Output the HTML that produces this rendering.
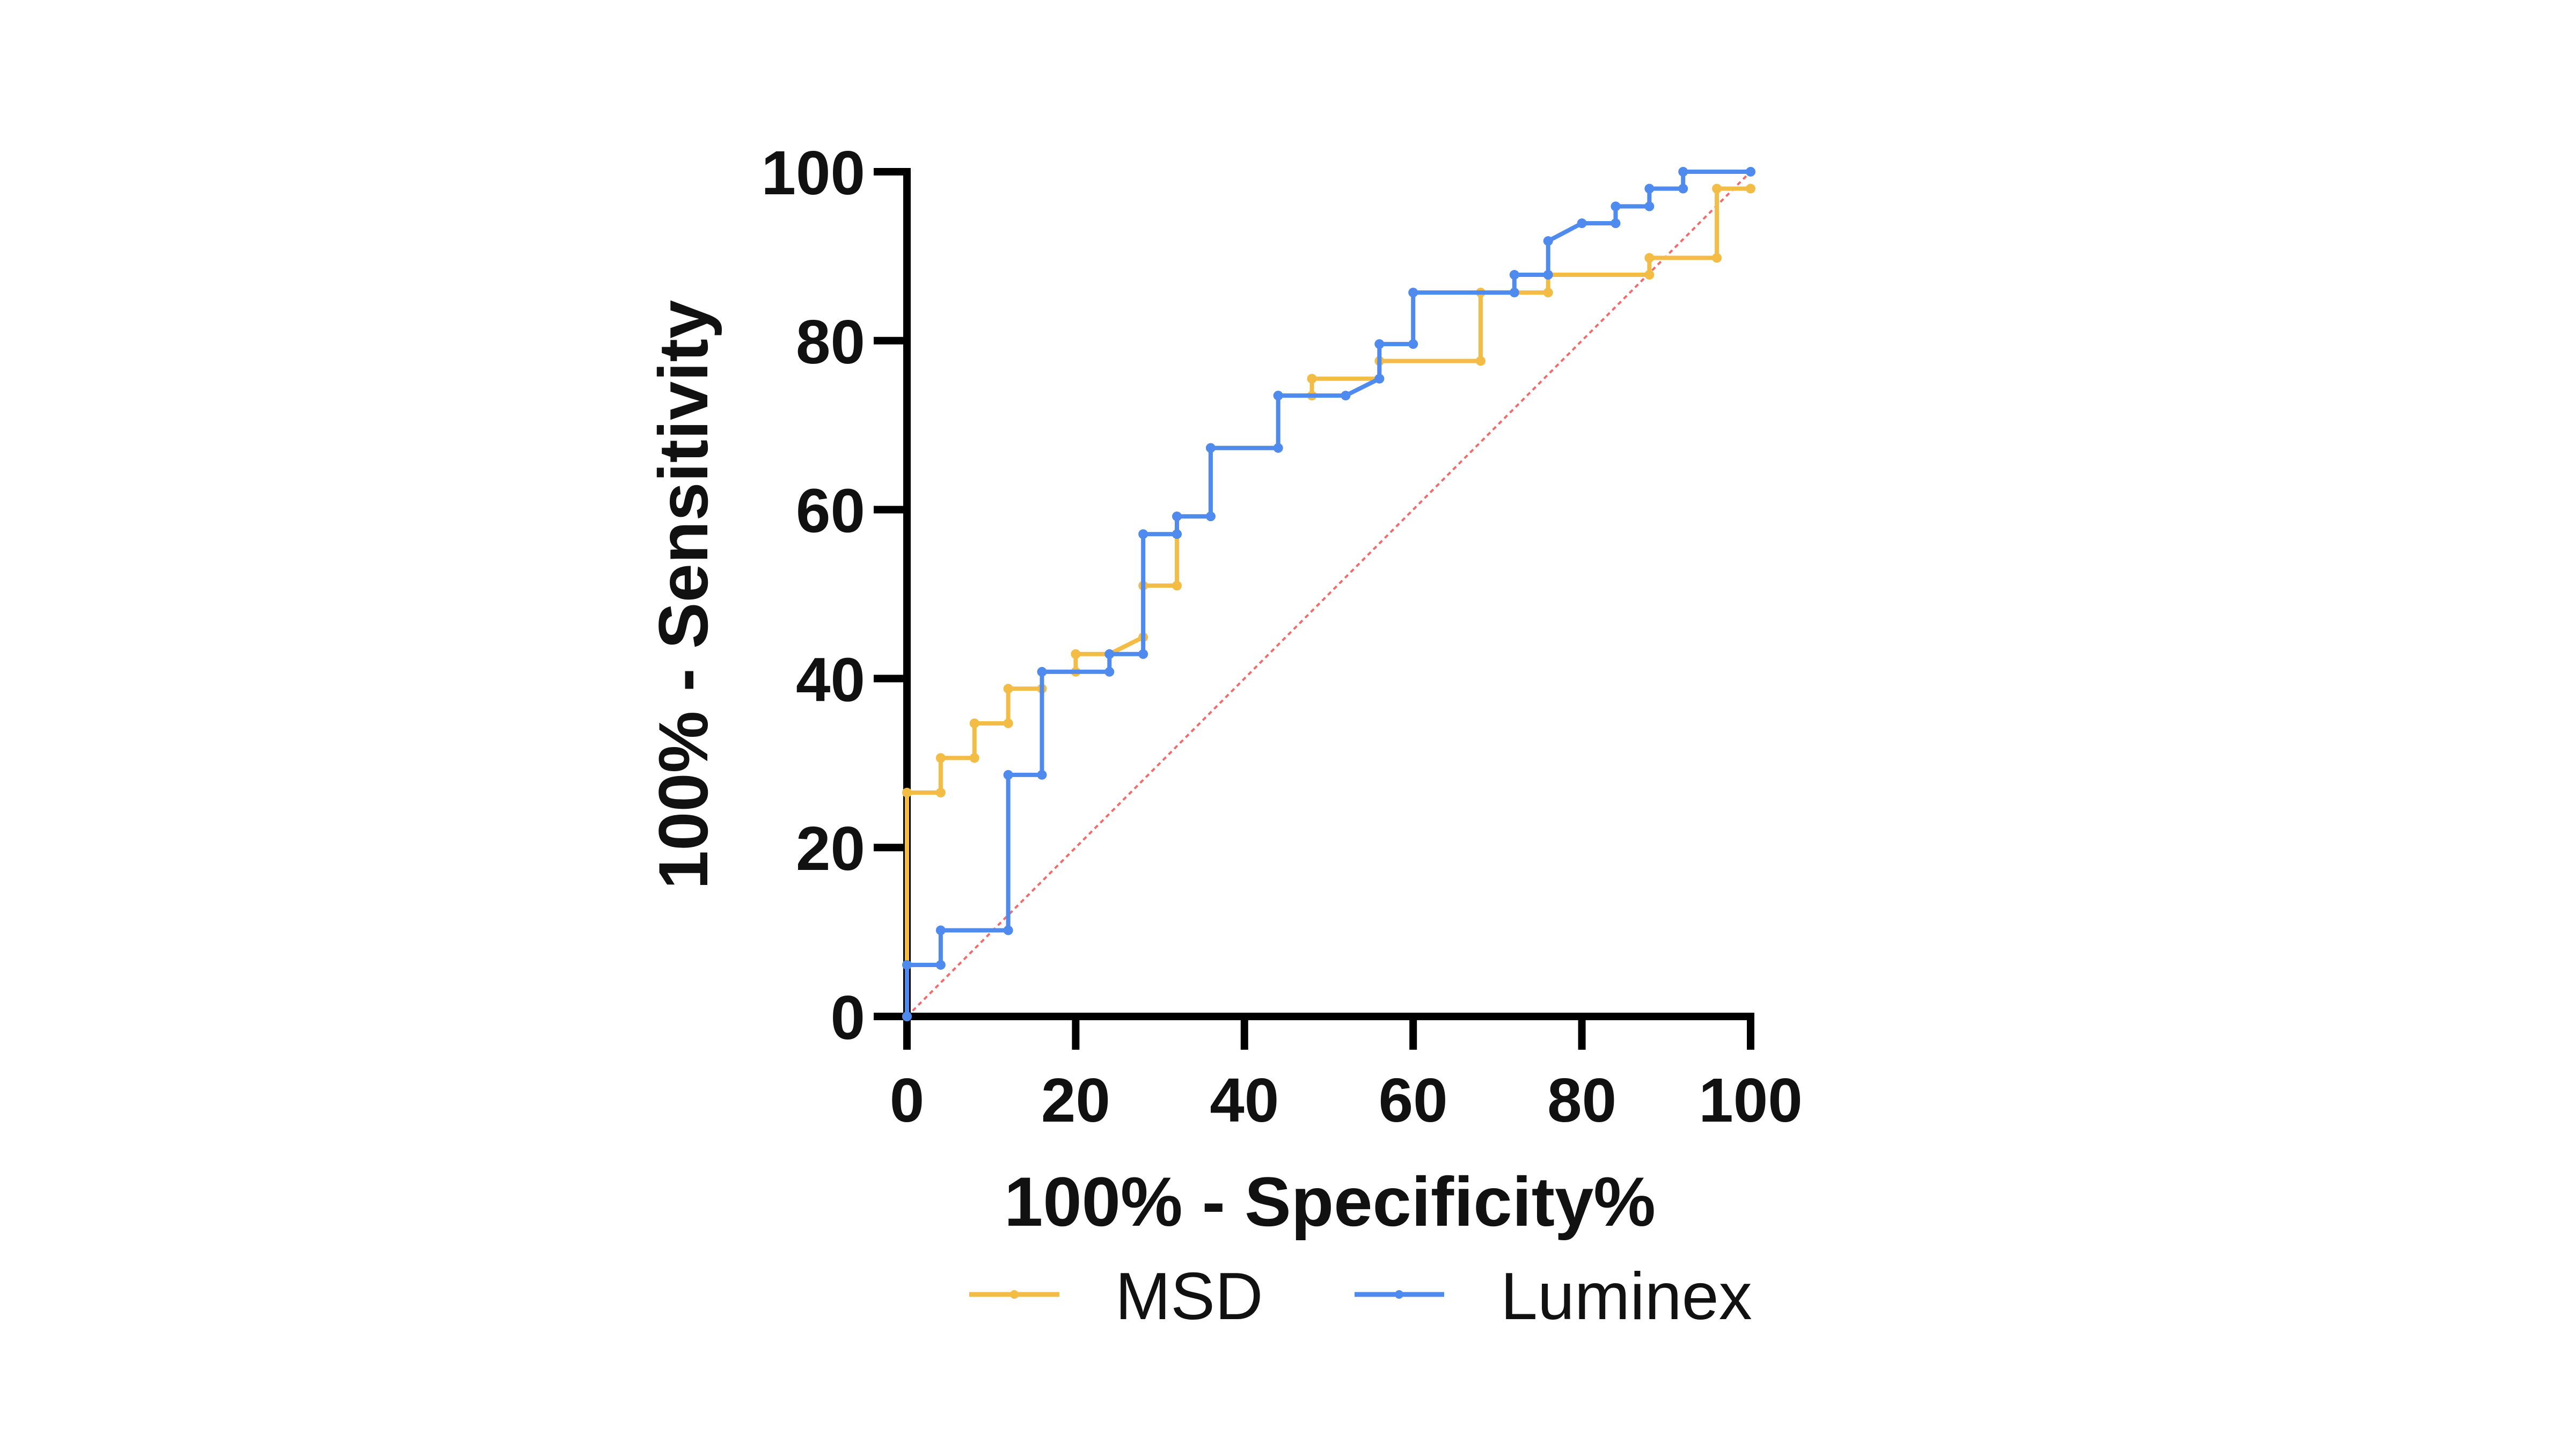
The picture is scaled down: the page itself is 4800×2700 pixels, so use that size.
<!DOCTYPE html>
<html><head><meta charset="utf-8"><style>
html,body{margin:0;padding:0;background:#fff;}
svg{display:block;font-family:"Liberation Sans",Arial,sans-serif;}
</style></head><body>
<svg id="chart" width="4800" height="2700" viewBox="0 0 4800 2700" xmlns="http://www.w3.org/2000/svg">
<rect width="4800" height="2700" fill="#fff"/>
<g id="plot"></g>
<text x="1272" y="1108" transform="rotate(-90 1272 1108)" dy="46" text-anchor="middle" font-weight="bold" font-size="130" fill="#111">100% - Sensitivity</text>
<text x="2478" y="2284" text-anchor="middle" font-weight="bold" font-size="130" fill="#111">100% - Specificity%</text>
<g>
<g>
<line x1="1806" y1="2412" x2="1974" y2="2412" stroke="#F2BC45" stroke-width="9"/>
<circle cx="1890" cy="2412" r="8" fill="#F2BC45"/>
<text x="2078" y="2458" font-size="124" fill="#111">MSD</text>
</g>
<g>
<line x1="2524" y1="2412" x2="2691" y2="2412" stroke="#4F8AEE" stroke-width="9"/>
<circle cx="2607" cy="2412" r="8" fill="#4F8AEE"/>
<text x="2796" y="2458" font-size="124" fill="#111">Luminex</text>
</g>
</g>
</svg>
<script>
const xTicks = [0, 20, 40, 60, 80, 100];
const yTicks = [0, 20, 40, 60, 80, 100];
const msdX = [0,0,4,4,8,8,12,12,16,16,20,20,24,28,28,32,32,32,36,36,44,44,48,48,56,56,68,68,76,76,88,88,96,96,100];
const msdY = [0,26.5,26.5,30.6,30.6,34.7,34.7,38.8,38.8,40.8,40.8,42.9,42.9,44.9,51,51,57.1,59.2,59.2,67.3,67.3,73.5,73.5,75.5,75.5,77.6,77.6,85.7,85.7,87.8,87.8,89.8,89.8,98,98];
const lumX = [0,0,4,4,12,12,16,16,24,24,28,28,32,32,36,36,44,44,52,56,56,60,60,72,72,76,76,80,84,84,88,88,92,92,100];
const lumY = [0,6.1,6.1,10.2,10.2,28.6,28.6,40.8,40.8,42.9,42.9,57.1,57.1,59.2,59.2,67.3,67.3,73.5,73.5,75.5,79.6,79.6,85.7,85.7,87.8,87.8,91.8,93.9,93.9,95.9,95.9,98,98,100,100];

const NS = 'http://www.w3.org/2000/svg';
const X0 = 1690, X1 = 3262, Y0 = 1894, Y1 = 320;
const sx = v => X0 + (v / 100) * (X1 - X0);
const sy = v => Y0 - (v / 100) * (Y0 - Y1);
const plot = document.getElementById('plot');
function mk(tag, attrs) {
  const el = document.createElementNS(NS, tag);
  for (const k in attrs) el.setAttribute(k, attrs[k]);
  plot.appendChild(el);
  return el;
}
// axes
const yAxis = mk('line', {x1: X0, y1: Y1 - 7, x2: X0, y2: Y0 + 7, stroke: '#000', 'stroke-width': 14});


const xAxis = mk('line', {x1: X0 - 7, y1: Y0, x2: X1 + 7, y2: Y0, stroke: '#000', 'stroke-width': 14});


yTicks.forEach(v => {
  const t = mk('line', {x1: X0 - 62, y1: sy(v), x2: X0, y2: sy(v), stroke: '#000', 'stroke-width': 14});
  
  
  const l = mk('text', {x: 1612, y: sy(v) + 42, 'text-anchor': 'end', 'font-weight': 'bold', 'font-size': 116, fill: '#111'});
  l.textContent = v;
  
  
});
xTicks.forEach(v => {
  const t = mk('line', {x1: sx(v), y1: Y0, x2: sx(v), y2: Y0 + 62, stroke: '#000', 'stroke-width': 14});
  
  
  const l = mk('text', {x: sx(v), y: 2090, 'text-anchor': 'middle', 'font-weight': 'bold', 'font-size': 116, fill: '#111'});
  l.textContent = v;
  
  
});
// diagonal reference
const diag = mk('line', {x1: sx(0), y1: sy(0), x2: sx(100), y2: sy(100), stroke: '#F26B6B', 'stroke-width': 4, 'stroke-dasharray': '8 7'});



function series(xs, ys, color, name) {
  const g = mk('g', {});
  
  
  const pts = xs.map((x, i) => sx(x) + ',' + sy(ys[i])).join(' ');
  const pl = document.createElementNS(NS, 'polyline');
  pl.setAttribute('points', pts);
  pl.setAttribute('fill', 'none');
  pl.setAttribute('stroke', color);
  pl.setAttribute('stroke-width', 8);
  pl.setAttribute('stroke-linejoin', 'round');
  
  
  g.appendChild(pl);
  xs.forEach((x, i) => {
    const c = document.createElementNS(NS, 'circle');
    c.setAttribute('cx', sx(x)); c.setAttribute('cy', sy(ys[i]));
    c.setAttribute('r', 9); c.setAttribute('fill', color);
    
    
    g.appendChild(c);
  });
}
series(msdX, msdY, '#F2BC45', 'msd');
series(lumX, lumY, '#4F8AEE', 'luminex');
</script>
</body></html>
